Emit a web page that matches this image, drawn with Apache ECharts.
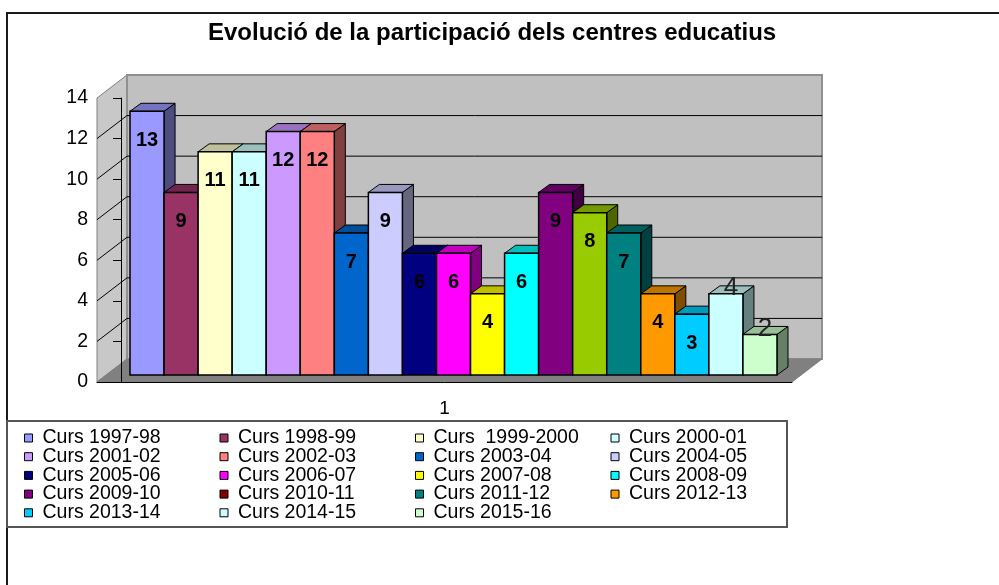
<!DOCTYPE html>
<html>
<head>
    <meta charset="UTF-8">
    <title>Evolució de la participació dels centres educatius</title>
</head>
<body style="margin:0">
<div id="main" style="width: 999px;height:585px;"></div>
<script type="text/javascript" src="https://cdn.jsdelivr.net/npm/echarts/dist/echarts.min.js"></script>
<script type="text/javascript">
    // dades llegides del gràfic
    var courses = ['Curs 1997-98', 'Curs 1998-99', 'Curs  1999-2000', 'Curs 2000-01',
        'Curs 2001-02', 'Curs 2002-03', 'Curs 2003-04', 'Curs 2004-05',
        'Curs 2005-06', 'Curs 2006-07', 'Curs 2007-08', 'Curs 2008-09',
        'Curs 2009-10', 'Curs 2010-11', 'Curs 2011-12', 'Curs 2012-13',
        'Curs 2013-14', 'Curs 2014-15', 'Curs 2015-16'];
    var centres = [13, 9, 11, 11, 12, 12, 7, 9, 6, 6, 4, 6, 9, 8, 7, 4, 3, 4, 2];
    var categories = ['1'];
    var yTicks = [0, 2, 4, 6, 8, 10, 12, 14];

    var barColors = ['#9999FF', '#993366', '#FFFFCC', '#CCFFFF', '#CC99FF', '#FF8080', '#0066CC',
        '#CCCCFF', '#000080', '#FF00FF', '#FFFF00', '#00FFFF', '#800080', '#99CC00', '#008080',
        '#FF9900', '#00CCFF', '#CCFFFF', '#CCFFCC'];
    // a la llegenda el 2010-11 surt granat
    var legendColors = barColors.slice();
    legendColors[13] = '#800000';

    // geometria de la perspectiva (px)
    var X_MIN = -0.705, X_MAX = 19.705;
    var WALL_DEPTH = [30, -23];
    var BAR_OFFSET = [9, -7];
    var BAR_DEPTH = [11, -8];
    var PLAIN_LABEL_FROM = 17;
    var FONT = '"Liberation Sans", Arial, sans-serif';

    function shade(hex, k) {
        var n = parseInt(hex.slice(1), 16);
        var r = Math.round(((n >> 16) & 255) * k), g = Math.round(((n >> 8) & 255) * k), b = Math.round((n & 255) * k);
        return 'rgb(' + r + ',' + g + ',' + b + ')';
    }

    function renderWalls(params, api) {
        var yMin = yTicks[0], yMax = yTicks[yTicks.length - 1];
        var back = function (p) { return [p[0] + WALL_DEPTH[0], p[1] + WALL_DEPTH[1]]; };
        var fl = api.coord([X_MIN, yMin]), fr = api.coord([X_MAX, yMin]);
        var tl = api.coord([X_MIN, yMax]), tr = api.coord([X_MAX, yMax]);
        var children = [
            {type: 'polygon', shape: {points: [fl, tl, back(tl), back(fl)]}, style: {fill: '#C8C8C8', stroke: '#808080', lineWidth: 1}},
            {type: 'polygon', shape: {points: [back(tl), back(tr), back(fr), back(fl)]}, style: {fill: '#C0C0C0', stroke: '#909090', lineWidth: 2}},
            {type: 'polygon', shape: {points: [fl, fr, back(fr), back(fl)]}, style: {fill: '#808080', stroke: '#808080', lineWidth: 1}}
        ];
        yTicks.forEach(function (t) {
            if (t === yMin || t === yMax) return;
            var a = api.coord([X_MIN, t]), b = api.coord([X_MAX, t]);
            children.push({type: 'line', shape: {x1: back(a)[0], y1: back(a)[1], x2: back(b)[0], y2: back(b)[1]}, style: {stroke: '#000', lineWidth: 1}});
            children.push({type: 'line', shape: {x1: a[0], y1: a[1], x2: back(a)[0], y2: back(a)[1]}, style: {stroke: '#000', lineWidth: 1}});
        });
        return {type: 'group', children: children};
    }

    function renderBar(params, api) {
        var i = api.value(0), v = api.value(1);
        var bl = api.coord([i, 0]), tr = api.coord([i + 1, v]);
        var x0 = bl[0] + BAR_OFFSET[0], x1 = tr[0] + BAR_OFFSET[0];
        var y0 = bl[1] + BAR_OFFSET[1], y1 = tr[1] + BAR_OFFSET[1];
        var dx = BAR_DEPTH[0], dy = BAR_DEPTH[1];
        var color = api.visual('color');
        var plain = i >= PLAIN_LABEL_FROM;
        return {
            type: 'group',
            children: [
                {type: 'polygon', shape: {points: [[x1, y1], [x1 + dx, y1 + dy], [x1 + dx, y0 + dy], [x1, y0]]},
                    style: {fill: shade(color, 0.5), stroke: '#000', lineWidth: 1}},
                {type: 'polygon', shape: {points: [[x0, y1], [x0 + dx, y1 + dy], [x1 + dx, y1 + dy], [x1, y1]]},
                    style: {fill: shade(color, 0.75), stroke: '#000', lineWidth: 1}},
                {type: 'rect', shape: {x: x0, y: y1, width: x1 - x0, height: y0 - y1},
                    style: {fill: color, stroke: '#000', lineWidth: 1.5}},
                {type: 'text', x: (x0 + x1) / 2 + (plain ? 5 : 0), y: plain ? y1 - 6 : y1 + 29,
                    style: {text: String(v), fill: plain ? '#222' : '#000', fontSize: plain ? 26 : 20,
                        fontWeight: plain ? 'normal' : 'bold', fontFamily: FONT, align: 'center', verticalAlign: 'middle'}}
            ]
        };
    }

    var myChart = echarts.init(document.getElementById('main'));

    var series = [{
        name: 'walls', type: 'custom', xAxisIndex: 1, yAxisIndex: 0, clip: false, silent: true, z: 1,
        data: [[0, 0]], renderItem: renderWalls
    }];
    courses.forEach(function (name, i) {
        series.push({
            name: name, type: 'custom', xAxisIndex: 1, yAxisIndex: 0, clip: false, z: 2,
            itemStyle: {color: barColors[i]},
            data: [[i, centres[i]]], renderItem: renderBar
        });
    });

    // llegenda en 4 columnes, ordre per files
    var legends = [];
    for (var c = 0; c < 4; c++) {
        var items = [];
        for (var k = c; k < courses.length; k += 4) {
            items.push({name: courses[k], itemStyle: {color: legendColors[k], borderColor: '#000', borderWidth: 1}});
        }
        legends.push({
            orient: 'vertical', left: 24 + c * 195.5, top: 428, padding: 0, itemGap: -1.3,
            itemWidth: 8, itemHeight: 8, icon: 'rect', selectedMode: false,
            textStyle: {fontSize: 19.5, color: '#000', fontFamily: FONT, padding: [0, 0, 0, 5]},
            data: items
        });
    }

    var option = {
        backgroundColor: '#fff',
        animation: false,
        title: {
            text: 'Evolució de la participació dels centres educatius',
            left: 208, top: 21, padding: 0,
            textStyle: {fontSize: 24, fontWeight: 'bold', color: '#000', fontFamily: FONT}
        },
        legend: legends,
        grid: {left: 97, top: 98, width: 695, height: 284},
        xAxis: [{
            type: 'category', data: categories, z: 5,
            axisLine: {lineStyle: {color: '#000', width: 1}},
            axisTick: {length: 7, lineStyle: {color: '#000'}},
            axisLabel: {fontSize: 19, color: '#000', margin: 17, fontFamily: FONT},
            splitLine: {show: false}
        }, {
            type: 'value', min: X_MIN, max: X_MAX, show: false
        }],
        yAxis: {
            type: 'value', min: yTicks[0], max: yTicks[yTicks.length - 1], interval: 2, z: 5,
            axisLine: {show: true, lineStyle: {color: '#000', width: 1}},
            axisTick: {show: true, length: 8, lineStyle: {color: '#000'}},
            axisLabel: {fontSize: 19.5, color: '#000', margin: 9, fontFamily: FONT},
            splitLine: {show: false}
        },
        graphic: [
            {type: 'rect', shape: {x: 7, y: 13, width: 1000, height: 600}, style: {fill: 'none', stroke: '#1a1a1a', lineWidth: 2}, z: 0},
            {type: 'rect', shape: {x: 7, y: 421, width: 780, height: 106}, style: {fill: 'none', stroke: '#555', lineWidth: 2}, z: 0}
        ],
        series: series
    };

    myChart.setOption(option);
</script>
</body>
</html>
